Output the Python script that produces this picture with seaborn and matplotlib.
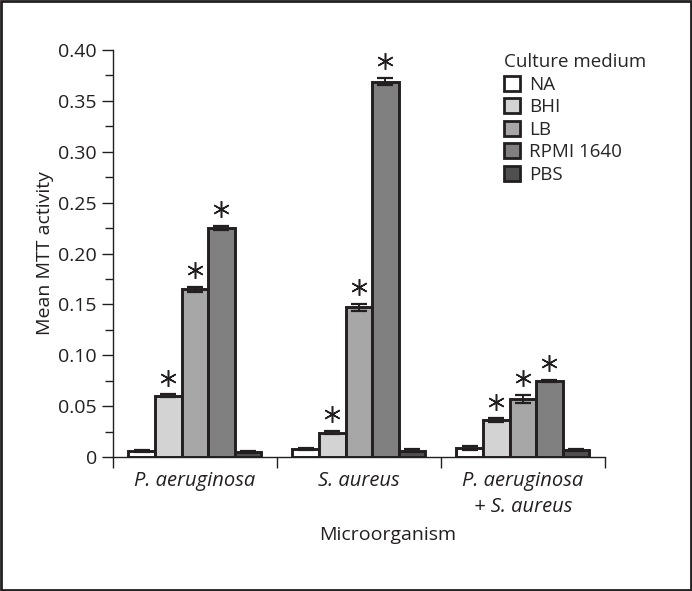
import matplotlib
matplotlib.use("Agg")
import matplotlib.pyplot as plt
import seaborn as sns
import pandas as pd
import numpy as np
from matplotlib.ticker import MultipleLocator, FixedLocator

organisms = ["P. aeruginosa", "S. aureus", "P. aeruginosa\n+ S. aureus"]
media = ["NA", "BHI", "LB", "RPMI 1640", "PBS"]
colors = ["#ffffff", "#d3d3d3", "#a7a7a7", "#808080", "#4f4f4f"]

values = {
    "NA":        [0.006, 0.008, 0.009],
    "BHI":       [0.060, 0.024, 0.036],
    "LB":        [0.165, 0.147, 0.057],
    "RPMI 1640": [0.225, 0.369, 0.075],
    "PBS":       [0.005, 0.006, 0.007],
}
errors = {
    "NA":        [0.0010, 0.0010, 0.0020],
    "BHI":       [0.0015, 0.0015, 0.0020],
    "LB":        [0.0025, 0.0035, 0.0040],
    "RPMI 1640": [0.0020, 0.0035, 0.0008],
    "PBS":       [0.0010, 0.0015, 0.0010],
}
significant = ["BHI", "LB", "RPMI 1640"]

rows = []
for m in media:
    for i, o in enumerate(organisms):
        rows.append({"Microorganism": o, "Culture medium": m, "value": values[m][i]})
df = pd.DataFrame(rows)

sns.set_theme(style="ticks")
plt.rcParams["font.family"] = ["Open Sans", "DejaVu Sans"]
edge = "#231f20"
fs = 14

fig = plt.figure(figsize=(6.92, 5.91), dpi=100)
ax = fig.add_axes([0.163, 0.2267, 0.711, 0.6887])

sns.barplot(data=df, x="Microorganism", y="value", hue="Culture medium",
            order=organisms, hue_order=media, palette=colors,
            width=0.81, gap=0, errorbar=None, edgecolor=edge, linewidth=2.1,
            ax=ax, legend=True)

for cont, m in zip(ax.containers, media):
    for i, rect in enumerate(cont):
        xc = rect.get_x() + rect.get_width() / 2
        v = values[m][i]
        e = errors[m][i]
        ax.errorbar(xc, v, yerr=e, fmt="none", ecolor=edge, elinewidth=1.4,
                    capsize=5.8, capthick=1.6, zorder=5)
        if m in significant:
            ax.plot(xc, v + e + 0.0165, marker=(6, 2, 0), markersize=12,
                    markeredgewidth=1.1, color=edge, linestyle="none",
                    clip_on=False, zorder=6)

ax.set_ylim(0, 0.40)
ax.set_xlim(-0.5, 2.5)
ax.yaxis.set_major_locator(MultipleLocator(0.05))
ax.yaxis.set_minor_locator(MultipleLocator(0.025))
ax.set_yticks(np.arange(0, 0.401, 0.05))
ax.set_yticklabels(["0"] + [f"{t:.2f}" for t in np.arange(0.05, 0.401, 0.05)])
ax.set_xticks(range(len(organisms)))
ax.set_xticklabels(organisms, style="italic", linespacing=1.4)
ax.xaxis.set_minor_locator(FixedLocator([-0.5, 0.5, 1.5, 2.5]))
ax.tick_params(axis="x", which="major", length=0, labelsize=fs + 0.5, pad=10, colors="#231f20")
ax.tick_params(axis="x", which="minor", length=8, width=1, color=edge)
ax.tick_params(axis="y", which="major", length=8, width=1, labelsize=fs, color=edge, labelcolor="#231f20")
ax.tick_params(axis="y", which="minor", length=6, width=1, color=edge)
for s in ["left", "bottom"]:
    ax.spines[s].set_color(edge)
    ax.spines[s].set_linewidth(1)
sns.despine(ax=ax)

ax.set_xlabel("Microorganism", fontsize=fs, color="#231f20", va="center")
ax.xaxis.set_label_coords(0.559, -0.192)
ax.set_ylabel("Mean MTT activity", fontsize=fs, labelpad=3, color="#231f20")

leg = ax.legend(title="Culture medium", loc="upper left", bbox_to_anchor=(0.78, 1.01),
                frameon=False, fontsize=fs - 0.5, title_fontsize=fs - 0.5,
                handlelength=0.85, handleheight=0.85, handletextpad=0.5,
                labelspacing=0.24, borderaxespad=0)
leg._legend_box.align = "left"
for h in leg.legend_handles:
    h.set_edgecolor(edge)
    h.set_linewidth(2)

fig.patches.append(plt.Rectangle((0.002, 0.002), 0.996, 0.996, transform=fig.transFigure,
                                 fill=False, edgecolor="#231f20", linewidth=2))

fig.savefig("out.png", dpi=100)
